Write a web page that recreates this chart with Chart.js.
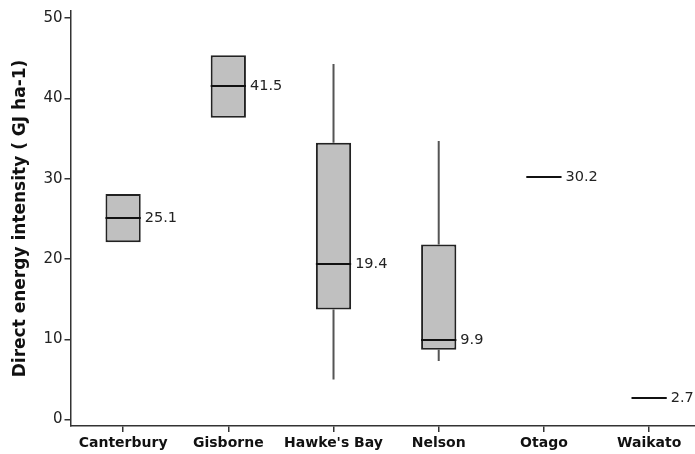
<!DOCTYPE html>
<html>
<head>
<meta charset="utf-8">
<script src="https://cdn.jsdelivr.net/npm/chart.js@4.4.1/dist/chart.umd.min.js"></script>
<style>
  body { margin: 0; background: #fff; overflow: hidden; }
  #wrap { width: 695px; height: 454px; }
</style>
</head>
<body>
<div id="wrap"><canvas id="boxChart" width="695" height="454"></canvas></div>
<script>
// box plot data
const regions = ["Canterbury", "Gisborne", "Hawke's Bay", "Nelson", "Otago", "Waikato"];
const whiskerLow  = [22.1, 37.6, 5.0, 7.3, null, null];
const q1          = [22.1, 37.6, 13.7, 8.7, null, null];
const medians     = [25.1, 41.5, 19.4, 9.9, 30.2, 2.7];
const q3          = [28.1, 45.4, 34.5, 21.8, null, null];
const whiskerHigh = [28.1, 45.4, 44.3, 34.7, null, null];
const yTicks = [0, 10, 20, 30, 40, 50];

const boxFrac = 0.335;
const FONT = "'DejaVu Sans', Verdana, sans-serif";

// whiskers under the boxes, medians + labels on top
const boxExtras = {
    id: 'boxExtras',
    beforeDatasetsDraw(chart) {
        const { ctx, scales: { x, y } } = chart;
        ctx.save();
        ctx.strokeStyle = '#555';
        ctx.lineWidth = 2;
        regions.forEach((r, i) => {
            if (whiskerLow[i] == null) return;
            const cx = x.getPixelForValue(i);
            ctx.beginPath();
            ctx.moveTo(cx, y.getPixelForValue(whiskerHigh[i]));
            ctx.lineTo(cx, y.getPixelForValue(q3[i]));
            ctx.moveTo(cx, y.getPixelForValue(q1[i]));
            ctx.lineTo(cx, y.getPixelForValue(whiskerLow[i]));
            ctx.stroke();
        });
        ctx.restore();
    },
    afterDatasetsDraw(chart) {
        const { ctx, scales: { x, y } } = chart;
        const halfW = (x.getPixelForValue(1) - x.getPixelForValue(0)) * boxFrac / 2;
        ctx.save();
        ctx.font = '14.5px ' + FONT;
        ctx.textBaseline = 'middle';
        ctx.textAlign = 'left';
        regions.forEach((r, i) => {
            const cx = x.getPixelForValue(i);
            const my = Math.round(y.getPixelForValue(medians[i]));
            ctx.strokeStyle = '#111';
            ctx.lineWidth = 2;
            ctx.beginPath();
            ctx.moveTo(cx - halfW, my);
            ctx.lineTo(cx + halfW, my);
            ctx.stroke();
            ctx.fillStyle = '#222';
            ctx.fillText(medians[i].toFixed(1), cx + halfW + 4, my);
        });
        ctx.restore();
    }
};

new Chart("boxChart", {
    type: "bar",
    data: {
        datasets: [{
            data: regions.map((r, i) => ({ x: i, y: q1[i] == null ? null : [q1[i], q3[i]] })),
            backgroundColor: '#c0c0c0',
            borderColor: '#222',
            borderWidth: 2,
            borderSkipped: false,
            barPercentage: boxFrac,
            categoryPercentage: 1
        }]
    },
    options: {
        responsive: false,
        animation: false,
        events: [],
        layout: { padding: { top: 10, right: 0, left: 0, bottom: 0 } },
        plugins: {
            legend: { display: false },
            tooltip: { enabled: false }
        },
        scales: {
            x: {
                type: 'linear',
                offset: false,
                min: -0.5,
                max: 5.436,
                afterBuildTicks: s => { s.ticks = regions.map((r, i) => ({ value: i })); },
                afterFit: s => { s.height = 28; },
                grid: { offset: false, drawOnChartArea: false, drawTicks: true, tickLength: 6, color: '#333', lineWidth: 1.5 },
                border: { display: true, color: '#333', width: 1.5 },
                ticks: {
                    autoSkip: false,
                    maxRotation: 0,
                    padding: 3,
                    color: '#111',
                    font: { family: FONT, size: 14, weight: 'bold' },
                    callback: v => regions[Math.round(v)]
                }
            },
            y: {
                min: -0.8,
                max: 50.9,
                afterBuildTicks: s => { s.ticks = yTicks.map(v => ({ value: v })); },
                afterFit: s => { s.width = 70.5; },
                grid: { drawOnChartArea: false, drawTicks: true, tickLength: 6, color: '#333', lineWidth: 1.5 },
                border: { display: true, color: '#333', width: 1.5 },
                ticks: {
                    padding: 2,
                    color: '#222',
                    font: { family: FONT, size: 15 }
                },
                title: {
                    display: true,
                    text: 'Direct energy intensity ( GJ ha-1)',
                    color: '#111',
                    font: { family: FONT, size: 17, weight: 'bold' },
                    padding: { top: 10, bottom: 0 }
                }
            }
        }
    },
    plugins: [boxExtras]
});
</script>
</body>
</html>
